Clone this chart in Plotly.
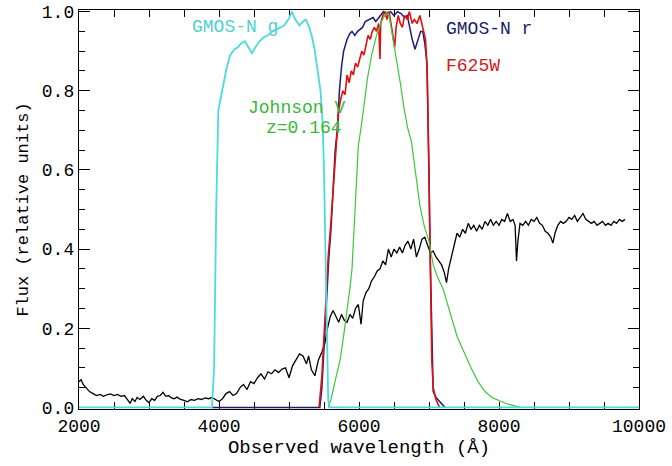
import plotly.graph_objects as go

# ---------------- data ----------------
spec_wl = [2000, 2030, 2060, 2100, 2150, 2200, 2250, 2300, 2350, 2400, 2450, 2500, 2550, 2600,
           2650, 2700, 2730, 2760, 2800, 2830, 2870, 2920, 2960, 3000, 3040, 3080, 3120, 3160,
           3200, 3240, 3280, 3320, 3360, 3400, 3450, 3500, 3550, 3600, 3650, 3700, 3750, 3800,
           3850, 3900, 3950, 4000, 4050, 4100, 4150, 4200, 4250, 4300, 4350, 4400, 4450, 4500,
           4550, 4600, 4650, 4700, 4750, 4800, 4850, 4900, 4950, 5000, 5050, 5100, 5150, 5200,
           5250, 5280, 5320, 5370, 5420, 5470, 5510, 5550, 5590, 5630, 5670, 5710, 5750, 5790,
           5830, 5870, 5910, 5950, 5990, 6030, 6060, 6100, 6140, 6180, 6220, 6260, 6300, 6340,
           6380, 6420, 6460, 6500, 6540, 6580, 6620, 6660, 6700, 6740, 6780, 6820, 6860, 6900,
           6940, 6980, 7020, 7060, 7100, 7140, 7180, 7220, 7250, 7280, 7320, 7360, 7400, 7440,
           7480, 7520, 7560, 7600, 7640, 7680, 7720, 7760, 7800, 7840, 7880, 7920, 7960, 8000,
           8040, 8080, 8120, 8160, 8200, 8230, 8250, 8270, 8300, 8340, 8380, 8420, 8460, 8500,
           8540, 8580, 8620, 8660, 8700, 8740, 8770, 8800, 8840, 8880, 8920, 8960, 9000, 9040,
           9080, 9120, 9160, 9200, 9240, 9280, 9320, 9360, 9400, 9440, 9480, 9520, 9560, 9600,
           9640, 9680, 9720, 9760, 9800]
spec_flux = [0.065, 0.07, 0.058, 0.05, 0.04, 0.035, 0.03, 0.033, 0.028, 0.032, 0.034, 0.03, 0.033, 0.028,
             0.03, 0.018, 0.01, 0.022, 0.015, 0.025, 0.02, 0.028, 0.018, 0.012, 0.022, 0.018, 0.028, 0.03,
             0.038, 0.028, 0.03, 0.024, 0.022, 0.026, 0.02, 0.018, 0.014, 0.02, 0.018, 0.022, 0.02, 0.024,
             0.022, 0.025, 0.02, 0.015, 0.022, 0.035, 0.04, 0.03, 0.035, 0.05, 0.058, 0.045, 0.065, 0.06,
             0.075, 0.085, 0.072, 0.09, 0.085, 0.095, 0.088, 0.097, 0.1, 0.075, 0.105, 0.12, 0.135, 0.13,
             0.11, 0.13, 0.095, 0.08, 0.12, 0.14, 0.16, 0.2, 0.23, 0.245, 0.23, 0.215, 0.235, 0.22,
             0.215, 0.235, 0.225, 0.25, 0.26, 0.21, 0.27, 0.29, 0.3, 0.32, 0.33, 0.345, 0.35, 0.37,
             0.36, 0.4, 0.38, 0.4, 0.39, 0.405, 0.39, 0.41, 0.42, 0.4, 0.425, 0.38, 0.4, 0.425,
             0.43, 0.41, 0.39, 0.395, 0.38, 0.37, 0.36, 0.34, 0.315, 0.35, 0.38, 0.41, 0.44, 0.43,
             0.45, 0.44, 0.465, 0.45, 0.46, 0.445, 0.46, 0.45, 0.47, 0.46, 0.475, 0.46, 0.47, 0.46,
             0.475, 0.47, 0.49, 0.47, 0.475, 0.46, 0.37, 0.42, 0.465, 0.46, 0.47, 0.46, 0.475, 0.47,
             0.48, 0.465, 0.46, 0.445, 0.44, 0.43, 0.415, 0.44, 0.46, 0.47, 0.465, 0.47, 0.48, 0.475,
             0.485, 0.47, 0.48, 0.49, 0.475, 0.47, 0.465, 0.47, 0.46, 0.465, 0.47, 0.46, 0.465, 0.46,
             0.47, 0.465, 0.475, 0.47, 0.475]

g_wl = [2000, 3900, 3930, 3960, 3990, 4040, 4100, 4160, 4220, 4270, 4320, 4370, 4420, 4470,
        4520, 4580, 4640, 4700, 4760, 4830, 4880, 4930, 4990, 5040, 5090, 5150, 5200, 5240,
        5290, 5330, 5370, 5410, 5450, 5480, 5500, 5520, 5540, 5560, 5580, 10000]
g_flux = [0.0, 0.0, 0.1, 0.5, 0.75, 0.8, 0.85, 0.89, 0.905, 0.91, 0.92, 0.925, 0.91, 0.895,
          0.91, 0.925, 0.935, 0.94, 0.95, 0.955, 0.96, 0.965, 0.98, 1.0, 0.98, 0.965, 0.975, 0.98,
          0.96, 0.935, 0.9, 0.85, 0.8, 0.72, 0.6, 0.4, 0.15, 0.02, 0.0, 0.0]

r_wl = [3900, 5440, 5470, 5500, 5520, 5540, 5570, 5600, 5630, 5660, 5690, 5720, 5750, 5780,
        5830, 5870, 5900, 5940, 5980, 6010, 6050, 6090, 6150, 6200, 6240, 6300, 6350, 6400,
        6450, 6500, 6550, 6600, 6650, 6690, 6730, 6760, 6800, 6840, 6880, 6910, 6940, 6970,
        6985, 7000, 7015, 7030, 7045, 7060, 7100, 7150, 7200, 7230]
r_flux = [0.0, 0.0, 0.05, 0.15, 0.22, 0.3, 0.38, 0.45, 0.55, 0.65, 0.7, 0.8, 0.86, 0.9,
          0.93, 0.945, 0.95, 0.94, 0.95, 0.955, 0.96, 0.975, 0.98, 0.985, 0.975, 0.99, 1.0, 0.995,
          1.0, 0.99, 1.0, 0.995, 0.985, 0.99, 0.95, 0.93, 0.905, 0.93, 0.95, 0.95, 0.92, 0.87,
          0.77, 0.6, 0.4, 0.25, 0.1, 0.04, 0.025, 0.015, 0.005, 0.0]

f625_wl = [5430, 5470, 5500, 5530, 5560, 5600, 5640, 5680, 5710, 5740, 5770, 5800, 5830,
           5860, 5890, 5920, 5950, 5980, 6010, 6040, 6070, 6100, 6130, 6160, 6190, 6220, 6250,
           6280, 6300, 6310, 6340, 6370, 6400, 6430, 6460, 6490, 6510, 6530, 6560, 6590, 6620,
           6650, 6690, 6720, 6760, 6790, 6830, 6870, 6910, 6950, 6975, 6990, 7005, 7020, 7040,
           7060, 7100, 7150]
f625_flux = [0.0, 0.08, 0.18, 0.28, 0.38, 0.47, 0.58, 0.68, 0.75, 0.78, 0.8, 0.79, 0.84,
             0.82, 0.85, 0.84, 0.87, 0.86, 0.88, 0.9, 0.89, 0.92, 0.94, 0.93, 0.95, 0.96, 0.95,
             0.97, 0.88, 0.97, 0.99, 1.0, 0.98, 1.0, 0.97, 0.94, 0.91, 0.96, 0.99, 0.97, 0.96,
             0.99, 0.98, 1.0, 0.97, 0.98, 0.97, 0.99, 0.96, 0.93, 0.85, 0.7, 0.5, 0.3, 0.12,
             0.05, 0.02, 0.0]

v_wl = [5560, 5600, 5650, 5700, 5730, 5780, 5830, 5870, 5900, 5930, 5950, 5970, 5990,
        6040, 6080, 6120, 6180, 6250, 6320, 6370, 6400, 6430, 6470, 6510, 6550, 6590, 6640,
        6690, 6750, 6810, 6870, 6930, 7000, 7060, 7120, 7200, 7300, 7400, 7500, 7600, 7700,
        7800, 7900, 8000, 8100, 8200, 8300]
v_flux = [0.0, 0.02, 0.06, 0.1, 0.12, 0.18, 0.24, 0.3, 0.35, 0.45, 0.52, 0.6, 0.66,
          0.72, 0.78, 0.83, 0.89, 0.94, 0.975, 0.99, 1.0, 0.99, 0.95, 0.9, 0.86, 0.82, 0.76,
          0.71, 0.67, 0.59, 0.51, 0.46, 0.42, 0.36, 0.33, 0.3, 0.24, 0.18, 0.14, 0.1, 0.065,
          0.04, 0.025, 0.017, 0.01, 0.005, 0.0]

x_ticks = [2000, 4000, 6000, 8000, 10000]
y_ticks = [0.0, 0.2, 0.4, 0.6, 0.8, 1.0]
x_tick_labels = ["2000", "4000", "6000", "8000", "10000"]
y_tick_labels = ["0.0", "0.2", "0.4", "0.6", "0.8", "1.0"]

label_text = ["GMOS-N g", "Johnson V", "z=0.164", "GMOS-N r", "F625W"]
label_x = [4230, 5100, 5215, 7214, 7214]
label_y = [0.962, 0.757, 0.707, 0.957, 0.862]

# ---------------- styles ----------------
FONT = "Liberation Mono"
CYAN = "#4ADCDC"
NAVY = "#1C1C7A"
RED = "#E01010"
GREEN = "#3CC83C"

fig = go.Figure()
fig.add_trace(go.Scatter(x=spec_wl, y=spec_flux, mode="lines",
                         line=dict(color="black", width=1.3), showlegend=False))
fig.add_trace(go.Scatter(x=r_wl, y=r_flux, mode="lines",
                         line=dict(color=NAVY, width=1.5), showlegend=False))
fig.add_trace(go.Scatter(x=f625_wl, y=f625_flux, mode="lines",
                         line=dict(color=RED, width=1.6), showlegend=False))
fig.add_trace(go.Scatter(x=v_wl, y=v_flux, mode="lines",
                         line=dict(color=GREEN, width=1.2), showlegend=False))
fig.add_trace(go.Scatter(x=g_wl, y=g_flux, mode="lines",
                         line=dict(color=CYAN, width=1.8), showlegend=False))

label_colors = ["#52CFCF", "#38B838", "#38B838", "#1C1C6A", "#CC2020"]
label_anchor = ["center", "center", "center", "left", "left"]
for t, xx, yy, c, a in zip(label_text, label_x, label_y, label_colors, label_anchor):
    fig.add_annotation(x=xx, y=yy, xref="x", yref="y", text=t, showarrow=False,
                       xanchor=a, yanchor="middle",
                       font=dict(family=FONT, size=18, color=c))

axis_common = dict(showgrid=False, zeroline=False, showline=True, linecolor="black",
                   linewidth=1.4, mirror="allticks", ticks="inside", tickcolor="black",
                   tickwidth=1.2, automargin=False, layer="below traces",
                   tickfont=dict(family=FONT, size=18, color="black"))

fig.update_xaxes(range=[2000, 10000], tickvals=x_ticks, ticktext=x_tick_labels,
                 ticklen=7,
                 minor=dict(ticks="inside", dtick=500, ticklen=7, tickcolor="black", tickwidth=1.2),
                 title=dict(text="Observed wavelength (Å)", standoff=2,
                            font=dict(family=FONT, size=19, color="black")),
                 **axis_common)
fig.update_yaxes(range=[-0.004, 1.004], tickvals=y_ticks, ticktext=y_tick_labels,
                 ticklen=11,
                 minor=dict(ticks="inside", dtick=0.05, tick0=0, ticklen=6, tickcolor="black", tickwidth=1.2),
                 title=dict(text="Flux (relative units)", standoff=8,
                            font=dict(family=FONT, size=17, color="black")),
                 **axis_common)

fig.update_layout(width=672, height=466, margin=dict(l=79, r=33, t=10, b=57, autoexpand=False),
                  paper_bgcolor="white", plot_bgcolor="white")

fig.write_html("out.html", config={"displayModeBar": False},
               post_script="document.body.style.margin='0px';")
